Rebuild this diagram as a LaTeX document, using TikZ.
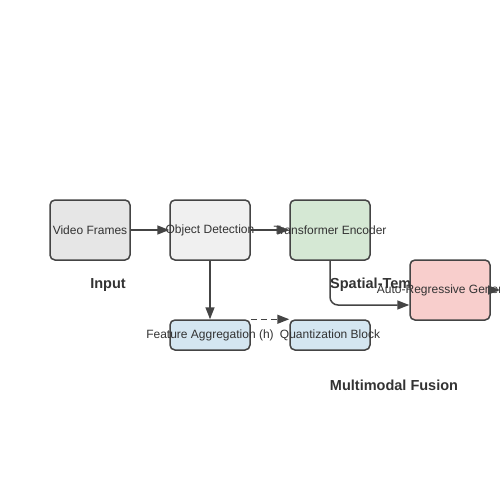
\documentclass[tikz,border=0pt]{standalone}
\usepackage{fontspec}
\setmainfont{Liberation Sans}
\usetikzlibrary{arrows.meta}
\definecolor{edge}{HTML}{444444}
\definecolor{txt}{HTML}{333333}
\definecolor{cgray}{HTML}{E6E6E6}
\definecolor{clight}{HTML}{F0F0F0}
\definecolor{cgreen}{HTML}{D5E8D4}
\definecolor{cred}{HTML}{F8CECC}
\definecolor{cblue}{HTML}{D4E6F1}
\tikzset{
  box/.style={draw=edge, line width=1.5pt, rounded corners=5pt, minimum width=80pt, minimum height=60pt, inner sep=0pt},
  smallbox/.style={box, minimum height=30pt},
  boxtext/.style={text=txt, font=\fontsize{12pt}{14pt}\selectfont, inner sep=0pt},
  conn/.style={draw=edge, line width=1.5pt, -{Triangle[length=12pt,width=9pt]}},
  dashconn/.style={conn, dash pattern=on 6pt off 4pt},
  grouplabel/.style={text=txt, font=\fontsize{14.5pt}{17pt}\selectfont\bfseries, inner sep=0pt}
}
\begin{document}
\begin{tikzpicture}[x=1pt,y=-1pt]
\useasboundingbox (0,0) rectangle (500,500);
\fill[white] (0,0) rectangle (500,500);
\node[grouplabel] (lin) at (108,285) {Input};
\node[grouplabel] (lmf) at (394,385) {Multimodal Fusion};
\node[grouplabel, anchor=west] (lst) at (330,285) {Spatial-Temporal};
\node[box, fill=cgray, label={[boxtext]center:Video Frames}] (vf) at (90,230) {};
\node[box, fill=clight, label={[boxtext]center:Object Detection}] (od) at (210,230) {};
\node[box, fill=cgreen, label={[boxtext]center:Transformer Encoder}] (te) at (330,230) {};
\node[smallbox, fill=cblue, label={[boxtext]center:Feature Aggregation (h)}] (fa) at (210,335) {};
\node[smallbox, fill=cblue, label={[boxtext]center:Quantization Block}] (qb) at (330,335) {};
\coordinate (out) at (500,290);
\draw[conn] (vf.east) -- (od.west);
\draw[conn] (od.east) -- (te.west);
\draw[conn] (od.south) -- (fa.north);
\draw[dashconn] (fa.north east) -- (qb.north west);
\node[box, fill=cred, label={[boxtext]center:Auto-Regressive Generator}] (ar) at (450,290) {};
\draw[conn, rounded corners=8pt] (te.south) |- ([yshift=-15pt]ar.west);
\draw[conn] (ar.east) -- (out);
\end{tikzpicture}
\end{document}
